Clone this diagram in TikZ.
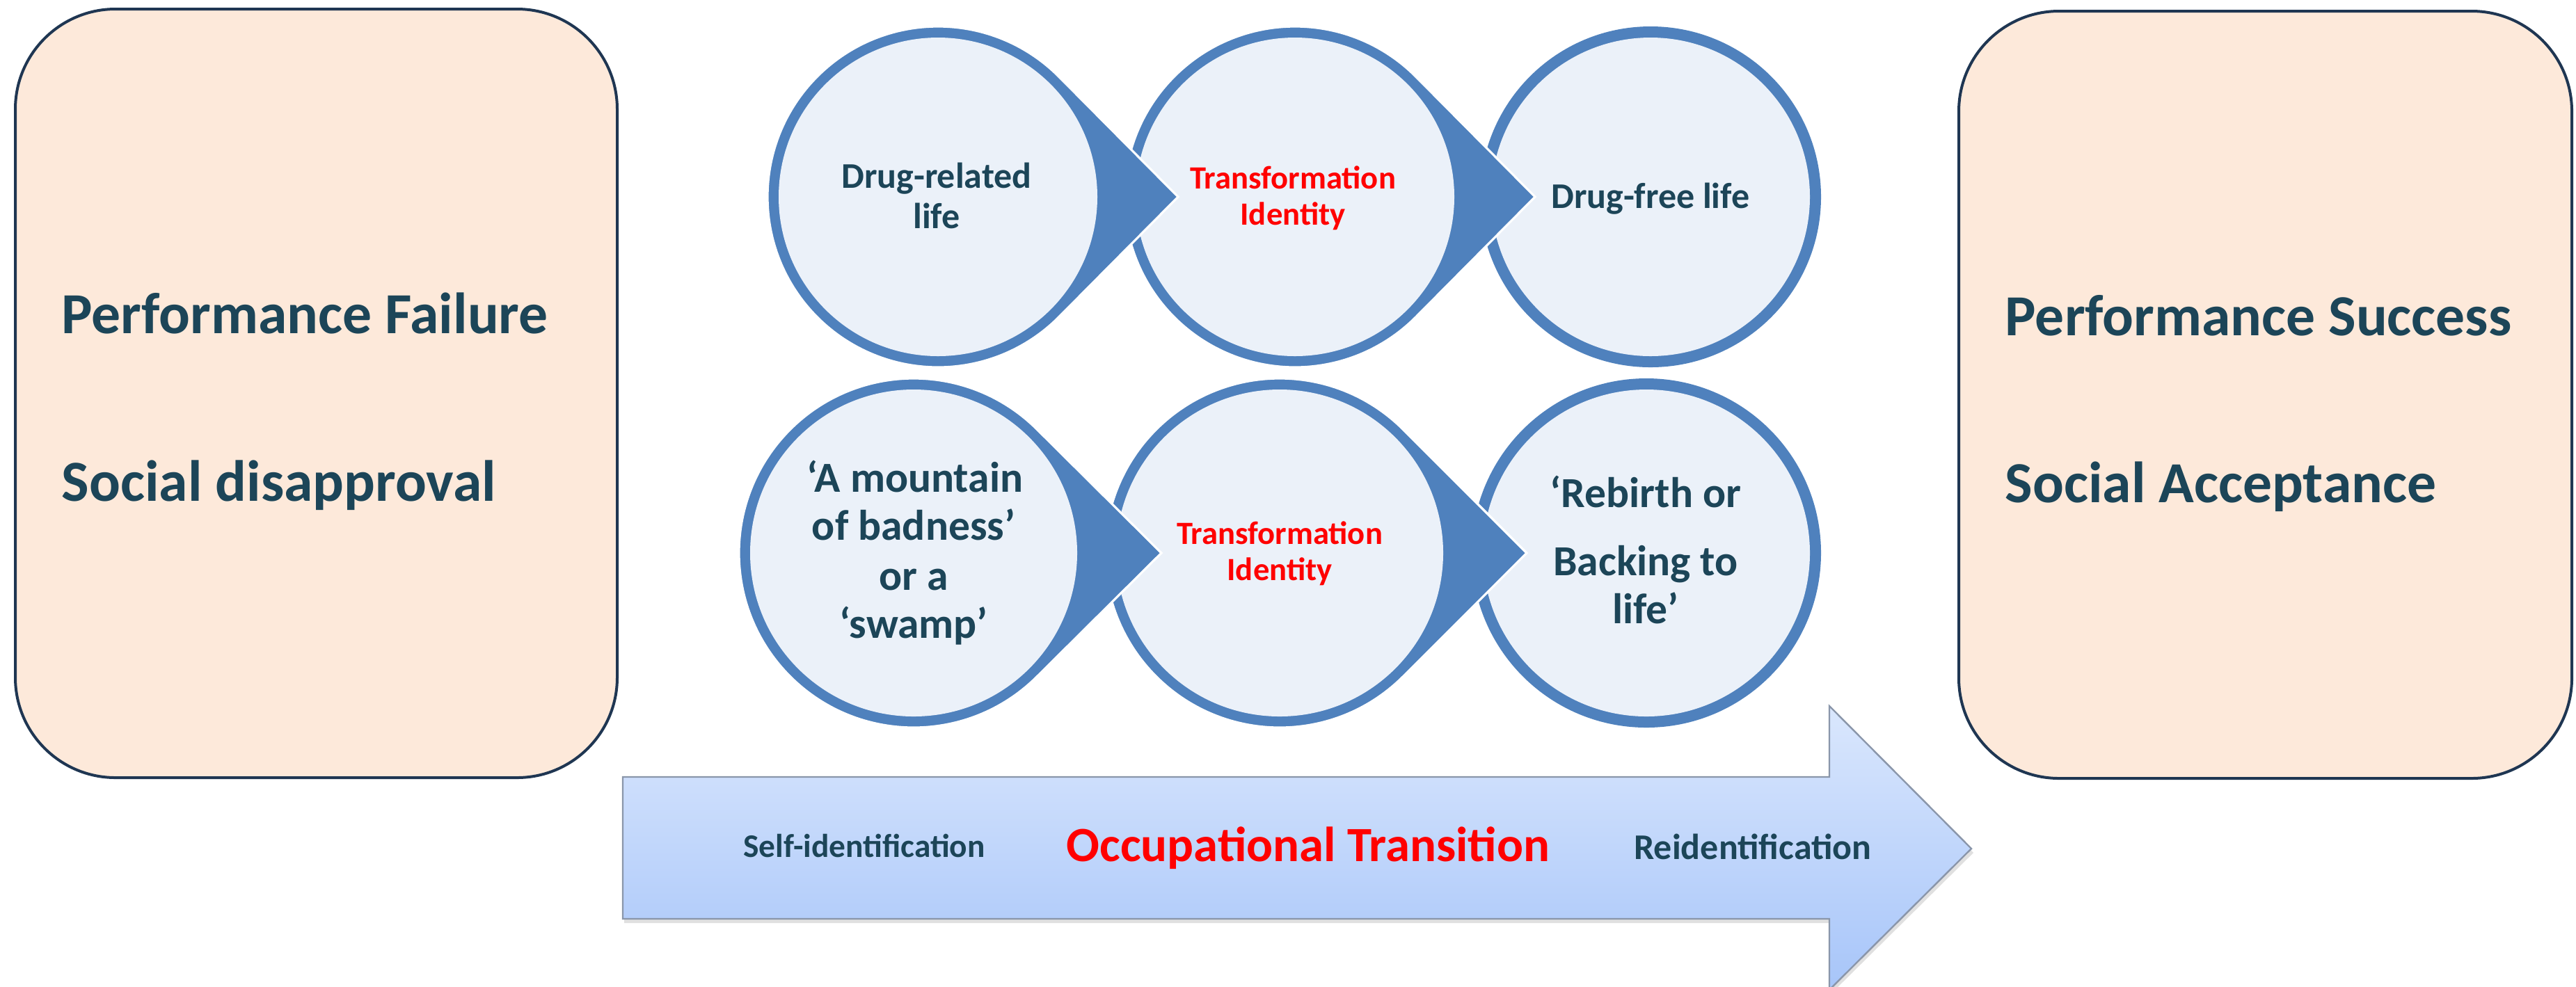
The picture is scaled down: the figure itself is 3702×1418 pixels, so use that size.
\documentclass[tikz,border=0pt]{standalone}
\usepackage{fontspec}
\setmainfont{Carlito}
\usetikzlibrary{calc}
\definecolor{ringblue}{HTML}{4F81BD}
\definecolor{corefill}{HTML}{EBF1F9}
\definecolor{boxfill}{HTML}{FDE9DA}
\definecolor{boxline}{HTML}{1F3652}
\definecolor{txtdark}{HTML}{1C4558}
\definecolor{arrowtop}{HTML}{DAE7FD}
\definecolor{arrowbot}{HTML}{A7C5F9}
\definecolor{arrowline}{HTML}{8A96AA}
\newcommand\tdshape[6]{%
  \pgfmathsetmacro\tdang{acos(#4/#5)}%
  \coordinate (#1) at (#2,#3);
  \filldraw[ring] ({#2+#5},#3) -- ({#2+#4*cos(\tdang)},{#3-#4*sin(\tdang)})
     arc[start angle=-\tdang, end angle={\tdang-360}, radius=#4] -- cycle;
  \fill[core] (#1) circle[radius=#6];
}
\newcommand\plaincirc[5]{%
  \coordinate (#1) at (#2,#3);
  \fill[ringblue] (#1) circle[radius=#4];
  \fill[core] (#1) circle[radius=#5];
}
\begin{document}
\begin{tikzpicture}[x=0.25pt,y=-0.25pt,
  boxstyle/.style={draw=boxline, line width=1pt, fill=boxfill, rounded corners=36pt, inner sep=0pt, outer sep=0pt, anchor=north west},
  ring/.style={fill=ringblue, draw=white, line width=0.8pt},
  core/.style={fill=corefill},
  lbl/.style={text=txtdark, font=\bfseries\fontsize{13pt}{15pt}\selectfont, anchor=base, inner sep=0pt},
  lblb/.style={text=txtdark, font=\bfseries\fontsize{15.4pt}{18pt}\selectfont, anchor=base, inner sep=0pt},
  redlbl/.style={text=red, font=\bfseries\fontsize{11.65pt}{14pt}\selectfont, anchor=base, inner sep=0pt},
  arrlbl/.style={text=txtdark, font=\bfseries\fontsize{11.85pt}{14pt}\selectfont, anchor=base, inner sep=0pt},
  arrred/.style={text=red, font=\bfseries\fontsize{17.7pt}{20pt}\selectfont, anchor=base, inner sep=0pt},
  bigl/.style={text=txtdark, font=\bfseries\fontsize{20.9pt}{24pt}\selectfont, anchor=base west, inner sep=0pt},
]
\useasboundingbox (0,0) rectangle (3702,1418);

% side boxes
\node[boxstyle, minimum width=216.25pt, minimum height=276.25pt] (lbox) at (22,13) {};
\node[boxstyle, minimum width=220.25pt, minimum height=275.75pt] (rbox) at (2815,16) {};
\node[bigl] (lt1) at (88,479) {Performance Failure};
\node[bigl] (lt2) at (88,720) {Social disapproval};
\node[bigl] (rt1) at (2881,482) {Performance Success};
\node[bigl] (rt2) at (2881,722) {Social Acceptance};

% top row circles (right to left for overlap)
\plaincirc{c3}{2372}{283}{245}{229}
\tdshape{c2}{1861}{283}{245}{345}{229}
\tdshape{c1}{1348}{283}{245}{345}{229}

% bottom row circles
\plaincirc{d3}{2366}{795}{251}{235}
\tdshape{d2}{1839}{795}{251}{355}{235}
\tdshape{d1}{1313}{795}{251}{356}{235}

% top row texts
\node[lbl] (t1a) at (1346,270) {Drug-related};
\node[lbl] (t1b) at (1346,328) {life};
\node[redlbl] (t2a) at (1858,271) {Transformation};
\node[redlbl] (t2b) at (1858,323) {Identity};
\node[lbl] (t3a) at (2372,299) {Drug-free life};

% bottom row texts
\node[lblb] (b1a) at (1315,707) {‘A mountain};
\node[lblb] (b1b) at (1313,776) {of badness’};
\node[lblb] (b1c) at (1313,848) {or a};
\node[lblb] (b1d) at (1313,917) {‘swamp’};
\node[redlbl] (b2a) at (1839,782) {Transformation};
\node[redlbl] (b2b) at (1839,834) {Identity};
\node[lblb] (b3a) at (2365,729) {‘Rebirth or};
\node[lblb] (b3b) at (2365,827) {Backing to};
\node[lblb] (b3c) at (2365,896) {life’};

% big arrow
\fill[black, opacity=0.12] (897,1123) -- (2631,1123) -- (2631,1021) -- (2836,1226) -- (2631,1429) -- (2631,1327) -- (897,1327) -- cycle;
\draw[draw=arrowline, line width=0.6pt, top color=arrowtop, bottom color=arrowbot]
  (895,1117) -- (2629,1117) -- (2629,1015) -- (2833,1220) -- (2629,1423) -- (2629,1321) -- (895,1321) -- cycle;
\node[arrlbl] (selfid) at (1242,1232) {Self-identification};
\node[arrred] (occ) at (1880,1238) {Occupational Transition};
\node[arrlbl, font=\bfseries\fontsize{13pt}{15pt}\selectfont] (reid) at (2519,1235) {Reidentification};
\end{tikzpicture}
\end{document}
